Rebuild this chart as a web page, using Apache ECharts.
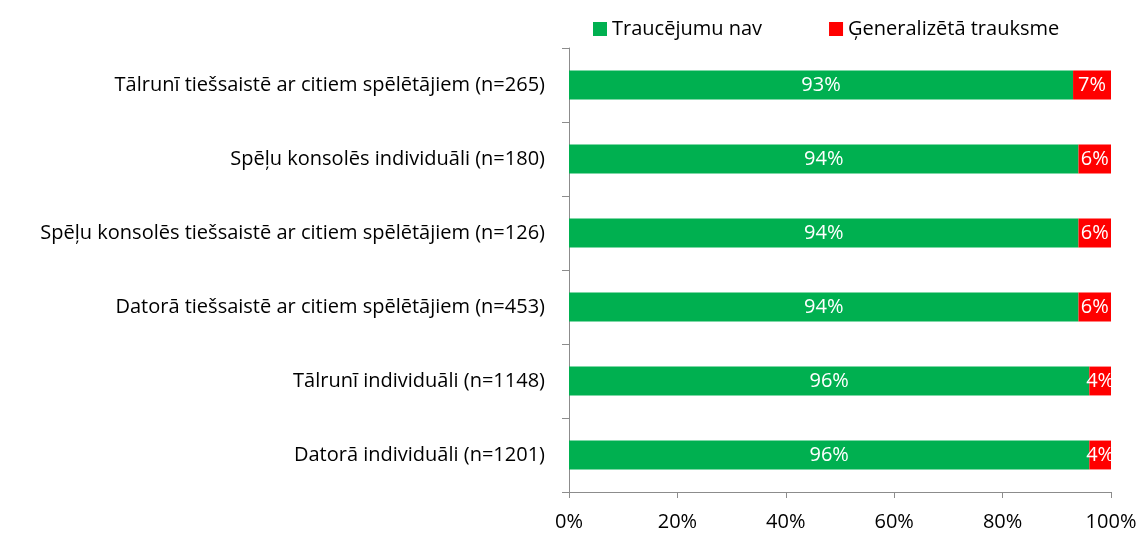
<!DOCTYPE html>
<html>
<head>
<meta charset="utf-8">
<script src="https://cdn.jsdelivr.net/npm/echarts@6/dist/echarts.min.js"></script>
<style>
  html, body { margin: 0; padding: 0; background: #fff; }
  #chart { width: 1141px; height: 533px; }
</style>
</head>
<body>
<div id="chart"></div>
<script>
// Categories listed bottom to top (category axis runs upward)
const categories = [
  'Datorā individuāli (n=1201)',
  'Tālrunī individuāli (n=1148)',
  'Datorā tiešsaistē ar citiem spēlētājiem (n=453)',
  'Spēļu konsolēs tiešsaistē ar citiem spēlētājiem (n=126)',
  'Spēļu konsolēs individuāli (n=180)',
  'Tālrunī tiešsaistē ar citiem spēlētājiem (n=265)'
];
const seriesNames = ['Traucējumu nav', 'Ģeneralizētā trauksme'];
const noDisorder = [96, 96, 94, 94, 94, 93];
const generalizedAnxiety = [4, 4, 6, 6, 6, 7];
const xTicks = ['0%', '20%', '40%', '60%', '80%', '100%'];

const FONT = '"Open Sans", Lato, sans-serif';
const FS = 20;
const chart = echarts.init(document.getElementById('chart'));

const barLabel = {
  show: true,
  position: 'inside',
  color: '#fff',
  fontFamily: FONT,
  fontSize: FS,
  formatter: p => p.value + '%'
};

chart.setOption({
  animation: false,
  textStyle: { fontFamily: FONT },
  legend: {
    top: 14,
    left: 588,
    itemWidth: 14,
    itemHeight: 14,
    itemGap: 67,
    icon: 'rect',
    textStyle: { fontSize: FS, color: '#000', fontFamily: FONT },
    data: seriesNames
  },
  grid: { left: 569, right: 30, top: 48, bottom: 41, containLabel: false },
  xAxis: {
    type: 'value',
    min: 0,
    max: 100,
    interval: 20,
    axisLine: { show: true, lineStyle: { color: '#8c8c8c', width: 1 } },
    axisTick: { show: true, length: 6, lineStyle: { color: '#8c8c8c' } },
    splitLine: { show: false },
    axisLabel: {
      color: '#000',
      fontSize: FS,
      fontFamily: FONT,
      margin: 20,
      formatter: v => xTicks[v / 20]
    }
  },
  yAxis: {
    type: 'category',
    data: categories,
    axisLine: { show: true, lineStyle: { color: '#8c8c8c', width: 1 } },
    axisTick: { show: true, length: 7, alignWithLabel: false, lineStyle: { color: '#8c8c8c' } },
    axisLabel: { color: '#000', fontSize: FS, fontFamily: FONT, margin: 24 }
  },
  series: [
    {
      name: seriesNames[0],
      type: 'bar',
      stack: 'total',
      barCategoryGap: '61%',
      itemStyle: { color: '#00B050' },
      label: barLabel,
      data: noDisorder
    },
    {
      name: seriesNames[1],
      type: 'bar',
      stack: 'total',
      barCategoryGap: '61%',
      itemStyle: { color: '#FF0000' },
      label: barLabel,
      data: generalizedAnxiety
    }
  ]
});
</script>
</body>
</html>
